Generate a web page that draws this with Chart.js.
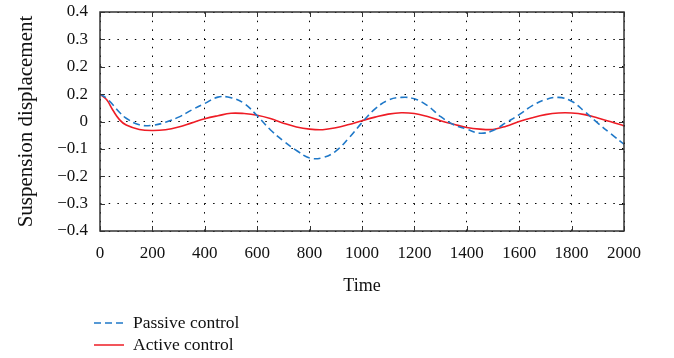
<!DOCTYPE html>
<html>
<head>
<meta charset="utf-8">
<script src="https://cdn.jsdelivr.net/npm/chart.js@4.4.0/dist/chart.umd.min.js"></script>
<style>
  html, body { margin: 0; padding: 0; background: #fff; }
  #wrap { width: 674px; height: 358px; position: relative; }
</style>
</head>
<body>
<div id="wrap"><canvas id="grafico"></canvas></div>
<script>
const tempo = [0, 25, 50, 75, 100, 150, 200, 250, 300, 350, 400, 450, 500, 550, 600, 650, 700, 750, 800, 850, 900, 950,
  1000, 1050, 1100, 1150, 1200, 1250, 1300, 1350, 1400, 1450, 1500, 1550, 1600, 1650, 1700, 1750, 1800, 1850, 1900, 1950, 2000]

const passivo = [0.100, 0.085, 0.060, 0.033, 0.012, -0.012, -0.014, -0.003, 0.016, 0.042, 0.066, 0.089, 0.087, 0.066, 0.021, -0.030,
  -0.071, -0.106, -0.133, -0.132, -0.108, -0.060, -0.004, 0.046, 0.078, 0.088, 0.083, 0.058, 0.018, -0.012, -0.028,
  -0.043, -0.033, -0.004, 0.025, 0.058, 0.080, 0.088, 0.074, 0.036, -0.006, -0.045, -0.083]

const ativo = [0.100, 0.080, 0.040, 0.006, -0.013, -0.029, -0.033, -0.030, -0.020, -0.005, 0.010, 0.021, 0.030, 0.029, 0.023, 0.011,
  -0.006, -0.020, -0.028, -0.030, -0.023, -0.011, 0.003, 0.016, 0.027, 0.032, 0.029, 0.018, 0.003, -0.010, -0.022,
  -0.028, -0.029, -0.017, 0.000, 0.014, 0.025, 0.031, 0.031, 0.025, 0.013, -0.001, -0.016]

const xTicks = ['0', '200', '400', '600', '800', '1000', '1200', '1400', '1600', '1800', '2000']
const yTicks = ['\u22120.4', '\u22120.3', '\u22120.2', '\u22120.1', '0', '0.2', '0.2', '0.3', '0.4']

const fonte = 'Liberation Serif'

function pontos(valores) {
  return tempo.map((t, i) => ({ x: t, y: valores[i] }))
}

// moldura, marcas internas e legenda
const moldura = {
  id: 'moldura',
  afterDraw(chart) {
    const ctx = chart.ctx
    const a = chart.chartArea
    const sx = chart.scales.x
    const sy = chart.scales.y
    ctx.save()
    ctx.strokeStyle = '#333'
    ctx.lineWidth = 1.5
    ctx.setLineDash([])
    ctx.strokeRect(a.left, a.top, a.right - a.left, a.bottom - a.top)
    ctx.lineWidth = 1
    sx.ticks.forEach(t => {
      const px = Math.round(sx.getPixelForValue(t.value)) + 0.5
      ctx.beginPath()
      ctx.moveTo(px, a.bottom); ctx.lineTo(px, a.bottom - 5)
      ctx.moveTo(px, a.top); ctx.lineTo(px, a.top + 5)
      ctx.stroke()
    })
    sy.ticks.forEach(t => {
      const py = Math.round(sy.getPixelForValue(t.value)) + 0.5
      ctx.beginPath()
      ctx.moveTo(a.left, py); ctx.lineTo(a.left + 5, py)
      ctx.moveTo(a.right, py); ctx.lineTo(a.right - 5, py)
      ctx.stroke()
    })

    // legenda
    ctx.font = '17.5px "' + fonte + '"'
    ctx.textBaseline = 'middle'
    ctx.fillStyle = '#111'
    chart.data.datasets.forEach((ds, i) => {
      const y = 323 + i * 22
      ctx.strokeStyle = ds.borderColor
      ctx.lineWidth = 1.5
      ctx.setLineDash(ds.borderDash || [])
      ctx.beginPath()
      ctx.moveTo(94, y); ctx.lineTo(124, y)
      ctx.stroke()
      ctx.fillText(ds.label, 133, y)
    })
    ctx.restore()
  }
}

new Chart(document.getElementById('grafico'), {
  type: 'line',
  data: {
    datasets: [{
      label: 'Passive control',
      data: pontos(passivo),
      borderColor: '#1f78c8',
      borderWidth: 1.6,
      borderDash: [7, 4],
      pointRadius: 0,
      tension: 0.4,
      fill: false
    },
    {
      label: 'Active control',
      data: pontos(ativo),
      borderColor: '#ee1c25',
      borderWidth: 1.6,
      pointRadius: 0,
      tension: 0.4,
      fill: false
    }]
  },
  options: {
    responsive: true,
    maintainAspectRatio: false,
    animation: false,
    layout: { padding: { left: 0, right: 50, top: 12, bottom: 57 } },
    plugins: {
      legend: { display: false },
      tooltip: { enabled: false }
    },
    scales: {
      x: {
        type: 'linear',
        min: 0,
        max: 2000,
        ticks: {
          stepSize: 200,
          padding: 12,
          color: '#111',
          font: { family: fonte, size: 17 },
          maxRotation: 0,
          callback: (v, i) => xTicks[i]
        },
        grid: { color: '#000', lineWidth: 1, drawTicks: false },
        border: { display: false, dash: [1.5, 7.2] },
        title: {
          display: true,
          text: 'Time',
          color: '#111',
          font: { family: fonte, size: 18 },
          padding: { top: 0, bottom: 4 }
        }
      },
      y: {
        min: -0.4,
        max: 0.4,
        afterFit(scale) {
          scale.width = 100
          scale.paddingTop = 0
          scale.paddingBottom = 0
        },
        ticks: {
          stepSize: 0.1,
          padding: 12,
          color: '#111',
          font: { family: fonte, size: 17 },
          callback: (v, i) => yTicks[i]
        },
        grid: { color: '#000', lineWidth: 1, drawTicks: false },
        border: { display: false, dash: [1.5, 7.2] },
        title: {
          display: true,
          text: 'Suspension displacement',
          color: '#111',
          font: { family: fonte, size: 21 },
          padding: { top: 14, bottom: 0 }
        }
      }
    }
  },
  plugins: [moldura]
})
</script>
</body>
</html>
